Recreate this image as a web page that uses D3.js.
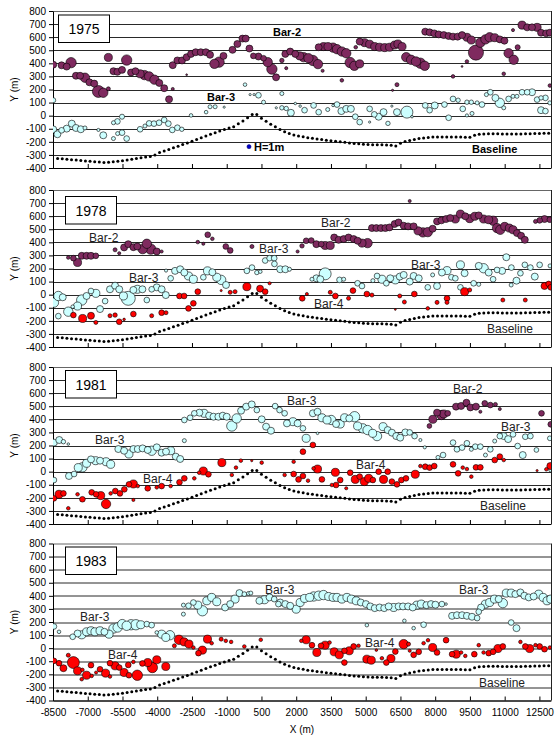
<!DOCTYPE html>
<html><head><meta charset="utf-8">
<script src="https://cdn.jsdelivr.net/npm/d3@7"></script>
<style>body{margin:0;background:#fff}svg{display:block}text{font-family:"Liberation Sans",Arial,sans-serif}</style>
</head><body><svg id="c" width="555" height="739"></svg>
<script>
const xTicks=[-8500,-7000,-5500,-4000,-2500,-1000,500,2000,3500,5000,6500,8000,9500,11000,12500];
const yTicks=[-400,-300,-200,-100,0,100,200,300,400,500,600,700,800];
const years=["1975","1978","1981","1983"];

// baseline [x, y]
const baseline=[[-8300,-328],[-8100,-330],[-7900,-333],[-7700,-336],[-7500,-338],[-7300,-342],[-7100,-346],[-6900,-349],[-6700,-352],[-6500,-355],[-6300,-358],[-6100,-356],[-5900,-352],[-5700,-348],[-5500,-344],[-5300,-339],[-5100,-334],[-4900,-328],[-4700,-322],[-4500,-316],[-4300,-312],[-4100,-300],[-3900,-282],[-3700,-270],[-3500,-258],[-3300,-246],[-3100,-234],[-2900,-221],[-2700,-208],[-2500,-195],[-2300,-182],[-2100,-168],[-1900,-155],[-1700,-142],[-1500,-130],[-1300,-118],[-1100,-105],[-900,-95],[-700,-85],[-500,-62],[-300,-40],[-100,-15],[100,8],[300,8],[500,-20],[700,-42],[900,-65],[1100,-85],[1300,-105],[1500,-122],[1700,-137],[1900,-148],[2100,-155],[2300,-162],[2500,-168],[2700,-173],[2900,-178],[3100,-183],[3300,-188],[3500,-192],[3700,-196],[3900,-200],[4100,-204],[4300,-208],[4500,-212],[4700,-215],[4900,-218],[5100,-220],[5300,-222],[5500,-222],[5700,-223],[5900,-224],[6100,-226],[6300,-232],[6500,-210],[6700,-198],[6900,-190],[7100,-182],[7300,-175],[7500,-170],[7700,-166],[7900,-164],[8100,-163],[8300,-163],[8500,-163],[8700,-163],[8900,-163],[9100,-164],[9300,-165],[9500,-165],[9700,-150],[9900,-142],[10100,-140],[10300,-138],[10500,-138],[10700,-139],[10900,-140],[11100,-141],[11300,-141],[11500,-141],[11700,-140],[11900,-139],[12100,-138],[12300,-137],[12500,-136],[12700,-135],[12900,-134]];

// bars [x, y, H(m)]
const bar2_1975=[[-8490,390,1.5],[-8130,385,1.5],[-7910,375,1.5],[-7720,405,3.3],[-7510,305,1.5],[-7330,305,1.5],[-7120,290,2.7],[-6930,255,1.5],[-6720,245,1.5],[-6540,185,4.4],[-6330,175,2.7],[-6110,205,0.5],[-6110,445,2],[-5890,340,1.5],[-5720,335,1.5],[-5520,350,1.5],[-5320,425,3.3],[-5130,330,1.5],[-4940,340,1.5],[-4740,320,2],[-4550,310,2.7],[-4350,300,2.7],[-4120,275,2.7],[-3910,250,1.5],[-3700,210,1.5],[-3490,125,1.5],[-3330,204,0.3],[-2730,313,0.1],[-3330,386,1.5],[-3130,422,1.5],[-2930,422,1.5],[-2730,447,1.5],[-2540,472,1.5],[-2340,485,1.5],[-2120,485,1.5],[-1900,485,1.5],[-1720,465,1.5],[-1530,396,2.7],[-1330,409,3.3],[-1140,457,1.5],[-750,503,1.5],[-540,548,1.5],[-320,589,1.5],[-180,589,1.5],[-20,513,1.5],[150,457,1],[370,452,1.5],[590,439,1],[770,409,2.7],[950,356,3.3],[1130,293,1.5],[1380,422,0.6],[1570,363,0.3],[1530,472,1.5],[1740,490,1.5],[1960,472,1.5],[2150,457,2],[2320,447,2.7],[2530,439,2.7],[2720,422,3.3],[2940,394,2.7],[3140,343,0.3],[2970,523,1.5],[3180,528,2],[3370,528,2],[3590,520,2.7],[3760,508,2.7],[3970,490,2.7],[4160,477,2.7],[4330,406,3.3],[4510,381,2.7],[4740,396,2],[4570,523,0.4],[3970,270,0.4],[4740,566,1.5],[4950,558,2],[5170,546,2],[5390,528,2],[5600,523,2],[5820,520,2],[6030,523,2],[6250,540,2],[6390,548,2],[6570,528,2],[6350,237,0.5],[6160,194,0.15],[6750,447,2.7],[6960,427,2.7],[7170,414,2.7],[7360,401,3.3],[7550,381,2.7],[7570,642,1.5],[7760,637,1.5],[7960,629,1.5],[8150,621,1.5],[8370,616,1.5],[8580,609,1.5],[8770,604,1.5],[8970,604,1.5],[9160,616,1.5],[9370,599,2],[9560,578,2],[9370,414,0.4],[9160,376,0.1],[8770,300,0.4],[9760,482,7],[9950,558,2.7],[10170,583,2.7],[10350,599,2.7],[10570,596,2],[10790,583,1.5],[10990,573,1.5],[10960,320,0.4],[11170,477,2.7],[11390,427,2.7],[11560,523,0.8],[11360,654,0.3],[11750,692,2],[11970,675,1.5],[12180,675,1.5],[12400,675,2],[12570,634,1.5],[12790,629,1.5],[12950,634,1.5],[12950,230,0.4]];
const bar3_1975=[[-8490,118,0.8],[-8490,-105,1.5],[-8310,-142,1.5],[-8130,-112,1],[-7910,-99,1.5],[-7690,-61,1.5],[-7510,-94,1.5],[-7300,-104,1.5],[-7120,-94,0.5],[-6540,-109,0.3],[-6330,-150,1.5],[-5890,-54,0.5],[-5720,-44,1],[-5520,-8,0.8],[-5890,-175,0.5],[-5710,-137,0.5],[-5520,-130,1],[-5320,-175,1],[-4740,-104,1],[-4530,-79,0.5],[-4350,-59,1],[-4140,-61,1],[-3920,-54,1],[-3700,-33,1],[-3520,-61,1],[-3350,-109,1],[-3130,-92,1],[-2940,-104,0.6],[-2540,2,0.4],[-1890,27,0.4],[-1720,68,0.5],[-1500,68,0.5],[-1110,65,0.15],[-210,237,0.4],[10,161,0.15],[180,161,0.15],[370,156,1],[590,103,0.5],[1140,60,0.15],[1380,60,0.6],[1570,55,0.6],[1770,22,1.5],[1380,169,0.5],[1960,93,0.2],[2170,73,0.2],[2360,42,1],[2750,78,1],[2970,27,1],[3360,47,0.5],[3590,78,0.2],[3760,85,1],[3950,35,1.5],[4160,52,1.5],[4360,52,1.5],[4550,-8,1],[4740,-49,1],[5170,-49,0.15],[5170,52,1],[5370,10,1],[5560,-8,1.5],[5770,27,1.5],[5960,-59,0.6],[6130,73,0.15],[6350,27,1.5],[6780,27,4.4],[7000,-8,0.2],[7570,78,1],[7760,42,1],[7980,78,1.5],[8400,85,1],[8580,-16,1],[8770,128,1],[8990,118,0.6],[9190,52,1],[9370,103,0.6],[9560,103,0.6],[9370,2,0.3],[9590,17,0.5],[9810,98,0.5],[10020,85,1],[10210,161,0.5],[10380,179,1],[10600,136,1.5],[10790,98,2.7],[10960,60,0.5],[11170,128,1],[11360,148,0.5],[11530,148,0.5],[11750,179,1],[11970,179,1],[12180,179,1.5],[12400,123,1],[12570,136,0.6],[12760,136,1],[12570,42,1.5],[12760,35,1],[12950,98,0.5]];

const bar2_1978=[[-7840,284,0.4],[-7620,279,1],[-7440,246,2],[-7260,297,1.5],[-7050,297,1.5],[-6860,297,1.5],[-6650,297,1],[-5820,343,0.5],[-5640,317,0.3],[-5430,361,1.5],[-5250,386,1.5],[-5030,363,1.5],[-4860,368,1.5],[-4630,348,2.7],[-4450,389,2.7],[-4280,348,3.3],[-4020,330,1.5],[-3810,330,0.3],[-2250,402,0.4],[-2010,389,0.3],[-1820,458,1],[-1620,427,0.4],[-1040,368,1],[-850,338,1],[90,368,0.5],[2060,330,0.3],[2250,373,0.6],[2430,412,1],[2650,414,1],[2870,386,1.5],[3080,386,1],[3250,376,2],[3470,376,2],[3640,437,1.5],[3830,419,1.5],[4050,425,1.5],[4260,437,1.5],[4480,425,1.5],[4650,412,1.5],[4840,394,2],[5080,394,2.7],[5270,509,1.5],[5460,509,1.5],[5660,509,1.5],[5850,509,1.5],[6030,514,1.5],[6250,540,1.5],[6420,552,1.5],[6640,527,1.5],[6830,522,1.5],[7070,522,1.5],[7260,488,2],[7470,476,2.7],[7680,478,2.7],[7890,504,1.5],[8080,560,1.5],[8270,568,1.5],[8470,578,1.5],[8650,586,1.5],[8870,578,2],[9090,616,2],[9300,599,1.5],[9490,581,2],[9710,599,2],[9880,606,1.5],[10090,578,2],[10310,573,2],[10500,565,2.7],[10670,509,2.7],[10810,496,2.7],[11000,522,2],[11200,509,2],[11360,496,2],[11530,471,1.5],[11710,450,1.5],[11870,419,1.5],[6900,716,0.3],[12330,560,0.5],[12510,568,1],[12720,578,1.5],[12950,573,1]];
const bar3_1978=[[-8460,-61,2.7],[-8270,-10,2.7],[-8080,-20,1.5],[-8270,-164,1],[-7840,-130,2.7],[-7650,-92,0.4],[-7440,-87,2],[-7260,-41,3.3],[-7050,-10,1.5],[-6860,28,1],[-6650,10,2],[-6470,-110,1.5],[-6250,-49,1],[-6040,41,1.5],[-5820,69,1.5],[-5640,41,1.5],[-5460,-10,2],[-5250,-28,6],[-5030,36,1.5],[-4860,41,2],[-4640,41,1.5],[-4450,-41,1],[-4240,41,1],[-4020,56,1.5],[-3810,41,1.5],[-3630,-3,1.5],[-3620,184,0.3],[-3420,125,1],[-3230,182,1.5],[-3010,194,1.5],[-2830,169,1.5],[-2650,143,2],[-2440,118,2],[-2010,133,1],[-1830,182,2],[-1620,171,1.5],[-1430,133,2],[-1240,113,2.7],[-1030,74,1.5],[-130,182,1],[90,207,1],[300,169,0.6],[450,176,0.4],[660,261,1],[850,279,1],[1050,279,1],[1060,235,1],[1310,194,1.5],[1530,194,1.5],[1710,194,0.5],[2680,118,0.5],[2870,125,1.5],[3040,118,1.5],[3250,159,4.4],[3870,113,1],[4050,118,0.5],[4650,87,1],[4840,66,1],[5310,107,0.5],[5490,143,1],[5700,118,2],[5890,87,1],[6060,125,1.5],[6280,113,2],[6470,138,1.5],[6640,151,1.5],[6900,100,1.5],[7070,143,1.5],[7290,125,1.5],[7680,56,1],[7890,151,0.5],[8080,66,1.5],[8290,169,1.5],[8510,184,2],[8700,133,1],[8870,125,1],[9090,228,2],[9270,164,1.5],[9090,56,1],[9660,87,1],[9880,79,0.5],[9880,220,1.5],[10090,202,2.7],[10310,169,1.5],[10500,118,1],[10670,189,1],[10890,182,1.5],[11070,286,1.5],[11290,207,1],[11280,74,0.5],[11510,107,1.5],[11680,164,1],[11870,228,1],[12110,207,1],[12300,138,1.5],[12510,228,1],[12960,220,0.5]];
const bar4_1978=[[-7620,-156,1],[-7220,-182,2],[-6860,-161,1.5],[-6650,-212,0.5],[-6040,-161,0.5],[-5820,-156,0.6],[-5640,-207,1],[-5430,-189,0.2],[-5030,-148,1],[-4240,-161,0.5],[-3810,-138,1],[-3620,-138,0.5],[-3040,-10,1],[-2840,-10,1],[-2650,-105,1],[-2440,-66,1],[-2250,23,1],[-1240,31,0.15],[-850,18,0.5],[-640,23,0.5],[-130,61,2],[440,46,1.5],[660,23,1],[850,87,0.3],[2260,-28,1],[2460,5,0.3],[3470,18,0.5],[3690,-10,1],[4260,-28,0.5],[4450,31,1],[5050,5,1],[5270,-3,0.5],[6280,-113,0.1],[6470,-10,0.5],[6670,-56,0.5],[7100,5,1],[7680,-105,0.4],[8080,-59,0.5],[8510,-28,1],[8510,-59,0.5],[9270,23,2],[9490,36,0.5],[10920,-41,0.5],[11890,-41,0.5],[12720,66,1.5],[12900,82,1],[12990,56,1]];

const bar2_1981=[[7750,349,0.7],[7900,400,2],[8080,451,1.5],[8270,433,2.7],[8370,441,2],[8540,446,1],[8900,497,1.5],[9120,502,1.5],[9350,527,1.5],[9520,491,1.5],[9760,497,1.5],[9950,458,0.3],[10140,522,1],[10380,509,1],[10600,514,0.5],[10790,479,0.3],[12590,446,1],[12990,362,1]];
const bar3_1981=[[-8460,222,1.5],[-8230,242,1.5],[-8050,229,0.6],[-7840,211,0.2],[-8460,-64,1],[-7810,-33,1.5],[-7590,-18,1],[-7410,31,2],[-7230,33,2.7],[-7050,64,2],[-6860,94,1.5],[-6660,84,2],[-6470,84,1.5],[-6210,76,2],[-6010,56,2],[-5680,173,1.5],[-5430,160,1.5],[-5220,135,2],[-5030,173,1.5],[-4840,173,1.5],[-4630,178,1.5],[-4410,166,1.5],[-4240,160,2.7],[-4020,186,1.5],[-3810,145,1.5],[-3620,153,1.5],[-3420,160,2],[-3200,115,1.5],[-3010,97,1.5],[-2830,237,0.5],[-2830,395,1],[-2580,412,1],[-2400,446,1],[-2180,451,1.5],[-1980,446,2],[-1760,428,1.5],[-1570,420,1.5],[-1360,420,1.5],[-1170,428,1.5],[-1000,420,1.5],[-780,349,3.3],[-570,407,2.7],[-380,466,1.5],[-160,497,1.5],[80,514,1.5],[300,471,1],[510,400,1.5],[700,344,1.5],[910,313,1.5],[1090,501,1],[1280,471,1],[1500,446,1],[1600,369,1.5],[1860,382,2],[2060,369,1.5],[2290,331,1],[2430,255,2],[2920,293,0.2],[2720,446,1.5],[2920,458,1.5],[3110,412,2],[3330,395,2],[3510,395,2.7],[3720,364,1.5],[3900,364,2],[4090,412,2],[4290,407,1.5],[4520,420,3.3],[4650,349,2],[4880,331,2.7],[5080,318,2.7],[5300,293,2],[5490,272,2.7],[5750,344,2],[5950,318,1.5],[6130,298,1.5],[6320,272,1.5],[6490,260,1.5],[6710,300,1.5],[6900,300,1],[7110,272,1],[7360,242,0.3],[7550,186,0.3],[8120,109,0.5],[8340,127,1],[8770,222,1],[8940,171,1],[9160,184,1],[9370,217,1],[9560,171,0.5],[9730,191,1],[9950,191,1],[10170,127,0.5],[10380,171,1],[10570,234,0.5],[10790,272,1],[10960,272,1.5],[11150,249,1.5],[11360,285,1],[11560,196,1],[11780,127,1.5],[11890,267,1],[12110,272,1],[12370,166,0.7],[12950,255,0.7],[12990,13,0.5]];
const bar4_1981=[[-8460,-204,1],[-8240,-173,2],[-8050,-166,1],[-7840,-280,0.4],[-7440,-173,0.4],[-7230,-211,1],[-6830,-158,1],[-6640,-173,1],[-6440,-183,2],[-6210,-247,2.7],[-6010,-166,0.4],[-5810,-148,1],[-5610,-166,1],[-5420,-135,1],[-5220,-97,1],[-5030,-94,2],[-4840,-110,0.4],[-5030,-216,0.3],[-4410,-127,1],[-4020,-120,0.4],[-3810,-110,1],[-3420,-110,0.4],[-3040,-81,1],[-2830,-51,1],[-2400,-51,0.4],[-2190,-8,0.4],[-2010,5,2],[-1790,-20,1],[-1210,69,2],[-780,-25,0.4],[-600,31,0.4],[-390,84,0.4],[80,84,0.15],[510,69,0.4],[2290,153,1],[2720,204,1],[1890,76,0.4],[1500,-25,0.4],[1890,-18,1],[2290,-33,1],[2100,-59,1],[2510,-69,0.4],[2750,25,0.4],[2920,20,2],[3110,-59,1],[3540,-102,0.4],[3690,-5,2],[3720,-102,1],[3900,-64,1],[4160,-127,0.3],[4330,-8,1],[4550,-59,2],[4740,-38,1],[4940,-76,2],[5130,-51,2],[5310,-64,1],[5560,0,1],[5770,-59,2],[5950,0,1],[6130,-76,1],[6350,-97,1],[6540,-64,1],[6740,-51,1],[7140,-20,2],[7360,43,0.4],[7570,38,1],[7760,31,1],[7960,43,1],[8770,56,1],[8990,-13,1],[9190,31,0.4],[9370,20,0.4],[9560,-38,0.4],[9760,33,1],[9950,33,1],[10570,89,1],[10790,115,1],[10960,89,0.4],[12400,8,0.15],[12800,18,0.4],[12970,43,1.5]];

const bar3_1983=[[-8460,166,1],[-8240,125,0.4],[-7650,87,1],[-7440,112,1.5],[-7260,102,2],[-7050,125,2],[-6860,133,2],[-6690,125,2],[-6470,133,2],[-6280,125,1.5],[-6080,107,2],[-5890,150,2.7],[-5710,158,2.7],[-5510,184,2.7],[-5320,171,2.7],[-5130,179,3.3],[-4920,179,3.3],[-4710,179,2],[-4450,184,1],[-4240,176,1],[-4020,120,0.4],[-3810,107,2],[-3630,82,2],[-3450,99,2.7],[-2870,260,0.5],[-2870,329,0.5],[-2650,324,1],[-2440,349,1],[-2250,329,2],[-2050,286,3.3],[-1860,362,2],[-1650,388,2],[-1430,355,2],[-1070,311,1.5],[-850,337,1.5],[-640,375,2],[-450,421,1.5],[-240,413,0.7],[-60,418,0.5],[40,421,0.5],[410,362,1.5],[630,370,2],[850,388,1.5],[1050,375,1],[1230,337,1],[1310,349,1.5],[1530,337,1.5],[1740,324,1.5],[2000,298,2],[2170,349,2],[2360,380,2],[2580,388,2],[2750,395,2.7],[2970,401,2.7],[3180,406,2.7],[3400,395,2],[3590,388,2],[3760,388,2],[3970,375,2],[4190,388,2],[4380,375,2],[4590,362,2],[4790,349,1.5],[5010,337,1.5],[5200,319,1.5],[5390,306,1.5],[5600,311,1.5],[5800,306,1.5],[5990,319,1.5],[6210,311,2],[6420,319,1.5],[6610,319,1.5],[6830,319,1.5],[7030,311,1.5],[7210,329,2],[7400,337,2],[7620,329,1.5],[7820,337,1.5],[8010,332,1.5],[8290,337,1],[8470,337,0.2],[5050,176,0.4],[6670,209,0.4],[7070,153,0.4],[7500,179,1],[8730,247,1.5],[8940,252,1.5],[9160,252,1.5],[9370,247,1.5],[9590,240,1.5],[9810,230,1],[9880,278,1],[9980,311,1.5],[10170,337,2],[10350,349,2],[10560,375,2],[10740,375,1.5],[10920,344,2.7],[11070,421,2],[11280,421,2],[11460,413,1.5],[11680,426,1.5],[11850,401,1.5],[12040,388,1.5],[12250,395,1.5],[12470,413,2],[12660,388,2],[12830,362,2],[12990,375,2],[11280,196,1],[11510,153,1.5]];
const bar4_1983=[[-8460,-97,1],[-8240,-115,1],[-8050,-153,1.5],[-7840,-54,0.5],[-7620,-110,4.4],[-7440,-173,2],[-7230,-166,0.4],[-7260,-237,0.4],[-7050,-207,2],[-6860,-130,1],[-6830,-212,0.4],[-6640,-186,0.3],[-6470,-161,1],[-6230,-191,2],[-6040,-217,0.4],[-6040,-115,1],[-5820,-135,2],[-5640,-148,1],[-5430,-186,2],[-5250,-128,1],[-5220,-207,1],[-5030,-105,0.4],[-4860,-207,3.3],[-4640,-117,1],[-4410,-110,2],[-4210,-148,3.3],[-4020,-89,2],[-3630,-140,2],[-3260,18,0.5],[-3060,64,2.7],[-2840,48,2],[-2630,31,2],[-2440,5,0.4],[-2220,-38,1],[-2050,-15,2],[-1830,69,2],[-1650,38,0.4],[-1240,69,0.5],[-1040,56,0.4],[-810,48,0.4],[-240,13,0.4],[470,64,0.4],[2220,56,0.4],[2430,64,2],[2680,23,1],[2890,-33,2],[3070,18,1],[3250,23,2],[3440,43,0.4],[3640,-28,2],[3860,-51,2],[4080,-110,1],[4080,-20,1],[4290,-20,2],[4480,13,1],[4690,18,0.4],[5050,-84,2],[5240,-92,2],[5460,-15,0.2],[5700,-77,0.4],[5890,-110,1],[6090,-79,2],[6280,-26,1],[6640,31,2.7],[6850,31,0.5],[6900,-20,0.3],[7070,-51,1],[7290,-28,1],[7500,38,0.4],[7690,61,0.4],[7890,5,2],[8080,-33,1],[8470,61,1],[8730,-46,1],[8910,-46,2],[9120,-33,0.4],[9300,-59,0.4],[9690,-46,1],[9880,23,0.4],[10090,-33,0.4],[10310,-38,1],[10500,-28,1],[10710,-3,2],[10920,13,1],[11680,48,0.4],[11890,13,1],[12080,-3,2],[12330,23,0.4],[12510,13,1],[12720,-8,1],[12950,5,0.4]];

// annotation labels [text, x, y] in data units
const labels_1975=[["Bar-2",1000,610],["Bar-3",-1850,112],["Baseline",9590,-283]];
const labels_1978=[["Bar-2",-6946,400],["Bar-3",-5219,99],["Bar-3",393,318],["Bar-2",3070,517],["Bar-3",6956,196],["Bar-4",2768,-102],["Baseline",10237,-293]];
const labels_1981=[["Bar-3",-6687,211],["Bar-4",-4614,-87],["Bar-3",1602,509],["Bar-4",4581,20],["Bar-2",8769,601],["Bar-3",10841,311],["Baseline",9934,-293]];
const labels_1983=[["Bar-3",-7334,207],["Bar-4",-6126,-83],["Bar-3",652,414],["Bar-3",9028,414],["Bar-4",4970,9],["Baseline",9891,-297]];
const legendH=[["H=1m",-38,-237,1]];

const colors={bar2:"#7f2a5f",bar3:"#ccffff",bar4:"#ff0000"};
const panels=[
 {year:years[0],series:[["bar2",bar2_1975],["bar3",bar3_1975]],labels:labels_1975,bold:true,top:11,box:[58,3.5],legend:true},
 {year:years[1],series:[["bar2",bar2_1978],["bar3",bar3_1978],["bar4",bar4_1978]],labels:labels_1978,bold:false,top:190,box:[65,6]},
 {year:years[2],series:[["bar2",bar2_1981],["bar3",bar3_1981],["bar4",bar4_1981]],labels:labels_1981,bold:false,top:367,box:[65,3]},
 {year:years[3],series:[["bar3",bar3_1983],["bar4",bar4_1983]],labels:labels_1983,bold:false,top:543.5,box:[65,3],xlabels:true}
];

const svg=d3.select("#c");
const L=53,R=551,PH=157;
const x=d3.scaleLinear().domain([-8500,13000]).range([L,R]);
const rs=d3.scaleSqrt().domain([0,1]).range([0,2.85]);

panels.forEach((p,i)=>{
  const g=svg.append("g").attr("transform",`translate(0,${p.top})`);
  const y=d3.scaleLinear().domain([-400,800]).range([PH,0]);
  const cid="clip"+i;
  g.append("clipPath").attr("id",cid).append("rect").attr("x",L).attr("y",0).attr("width",R-L).attr("height",PH);
  g.append("g").selectAll("line").data(yTicks).join("line")
   .attr("x1",L).attr("x2",R).attr("y1",d=>Math.round(y(d))+0.5).attr("y2",d=>Math.round(y(d))+0.5)
   .attr("stroke",d=>d===800?"#555":"#111").attr("stroke-width",0.9);
  g.append("line").attr("x1",R+0.5).attr("x2",R+0.5).attr("y1",0).attr("y2",PH).attr("stroke","#222");
  const ya=g.append("g").attr("transform",`translate(${L},0)`)
    .call(d3.axisLeft(y).tickValues(yTicks).tickSize(4).tickSizeOuter(0).tickPadding(3).tickFormat(d=>String(d)));
  ya.selectAll("text").attr("font-size",10).attr("fill","#000").style("font-family","Liberation Sans, Arial, sans-serif");
  ya.select(".domain").attr("stroke","#000");
  const xa=g.append("g").attr("transform",`translate(0,${PH})`)
    .call(d3.axisBottom(x).tickValues(xTicks).tickSizeInner(-4).tickSizeOuter(0).tickPadding(8).tickFormat(d=>p.xlabels?String(d):""));
  xa.selectAll("text").attr("font-size",10).attr("fill","#000").style("font-family","Liberation Sans, Arial, sans-serif");
  xa.select(".domain").attr("stroke","#000");
  g.append("text").attr("transform",`translate(18,${PH/2}) rotate(-90)`).attr("text-anchor","middle")
   .attr("font-size",10).text("Y (m)");
  const pg=g.append("g").attr("clip-path",`url(#${cid})`);
  p.series.forEach(([k,arr])=>{
    const sorted=arr.slice().sort((a,b)=>b[2]-a[2]);
    pg.append("g").selectAll("circle").data(sorted).join("circle")
      .attr("cx",d=>x(d[0])).attr("cy",d=>y(d[1])).attr("r",d=>rs(d[2]))
      .attr("fill",colors[k]).attr("stroke","#000").attr("stroke-width",0.6);
  });
  pg.append("g").selectAll("circle").data(baseline).join("circle")
    .attr("cx",d=>x(d[0])).attr("cy",d=>y(d[1])).attr("r",1.5).attr("fill","#000");
  g.append("g").selectAll("text").data(p.labels).join("text")
    .attr("x",d=>x(d[1])).attr("y",d=>y(d[2])).text(d=>d[0])
    .attr("font-size",p.bold?11:12).attr("font-weight",p.bold?"bold":"normal").attr("fill",p.bold?"#000":"#222");
  if(p.legend){
    legendH.forEach(d=>{
      g.append("circle").attr("cx",x(d[1])).attr("cy",y(d[2])).attr("r",rs(d[3])*0.72).attr("fill","#0000cc").attr("stroke","#000066").attr("stroke-width",0.5);
      g.append("text").attr("x",x(d[1])+5).attr("y",y(d[2])+4).attr("font-size",11).attr("font-weight","bold").text(d[0]);
    });
  }
  g.append("rect").attr("x",p.box[0]+0.5).attr("y",p.box[1]+0.5).attr("width",51).attr("height",27.5)
   .attr("fill","#fff").attr("stroke","#000").attr("stroke-width",1);
  g.append("text").attr("x",p.box[0]+26).attr("y",p.box[1]+19.5).attr("text-anchor","middle").attr("font-size",14).text(p.year);
});
svg.append("text").attr("x",302).attr("y",733).attr("text-anchor","middle").attr("font-size",10).text("X (m)");
</script></body></html>
